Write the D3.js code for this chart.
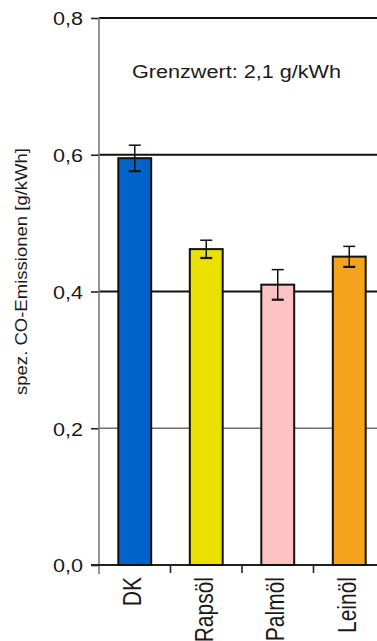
<!DOCTYPE html>
<html>
<head>
<meta charset="utf-8">
<script src="https://cdn.jsdelivr.net/npm/d3@7"></script>
<style>
  html, body { margin: 0; padding: 0; background: #fff; overflow: hidden; }
  svg { display: block; font-family: "Liberation Sans", Arial, sans-serif; }
</style>
</head>
<body>
<svg id="chart" width="377" height="641"></svg>
<script>
// Specific CO emissions per fuel, mean and error-bar half-width (g/kWh)
const categories = ["DK", "Rapsöl", "Palmöl", "Leinöl"];
const values = [0.595, 0.462, 0.410, 0.451];
const errors = [0.019, 0.013, 0.022, 0.015];
const barColors = ["#0063C9", "#EBE000", "#FFC2C2", "#F4A31C"];
const yTicks = [0.0, 0.2, 0.4, 0.6, 0.8];
const yTickLabels = ["0,0", "0,2", "0,4", "0,6", "0,8"];
const yLabel = "spez. CO-Emissionen [g/kWh]";
const note = "Grenzwert: 2,1 g/kWh";

const svg = d3.select("#chart");
const plotLeft = 99, plotTop = 18, plotBottom = 565;
const step = 71.5;

const y = d3.scaleLinear().domain([0, 0.8]).range([plotBottom, plotTop]);
const x = d3.scaleBand().domain(categories)
  .range([plotLeft, plotLeft + step * categories.length]).padding(0);
const barW = x.bandwidth() * 0.46;

// horizontal grid lines
svg.append("g").selectAll("line")
  .data(yTicks.filter(d => d > 0))
  .join("line")
  .attr("x1", plotLeft).attr("x2", 377)
  .attr("y1", d => y(d)).attr("y2", d => y(d))
  .attr("stroke", d => d === 0.2 ? "#6e6e6e" : "#111")
  .attr("stroke-width", d => d === 0.2 ? 1.3 : 1.8);

// y axis
const yAxis = d3.axisLeft(y).tickValues(yTicks)
  .tickFormat((d, i) => yTickLabels[i]).tickSize(8).tickPadding(8);
const gy = svg.append("g").attr("transform", `translate(${plotLeft},0)`).call(yAxis);
gy.select(".domain").remove();
gy.selectAll(".tick line").attr("stroke", "#222").attr("stroke-width", 1.6);
gy.selectAll(".tick text")
  .attr("font-size", 18).attr("fill", "#1a1a1a")
  .attr("textLength", 30).attr("lengthAdjust", "spacingAndGlyphs")
  .attr("dy", "0.38em");
svg.append("line")
  .attr("x1", plotLeft).attr("x2", plotLeft).attr("y1", plotTop).attr("y2", plotBottom + 9)
  .attr("stroke", "#7a7a7a").attr("stroke-width", 1.6);

// x axis baseline and category separators
svg.append("line")
  .attr("x1", plotLeft - 8).attr("x2", 377).attr("y1", plotBottom).attr("y2", plotBottom)
  .attr("stroke", "#222").attr("stroke-width", 1.8);
svg.append("g").selectAll("line")
  .data(categories.slice(1))
  .join("line")
  .attr("x1", d => x(d)).attr("x2", d => x(d))
  .attr("y1", plotBottom).attr("y2", plotBottom + 8)
  .attr("stroke", "#222").attr("stroke-width", 1.6);

// bars
svg.append("g").selectAll("rect")
  .data(categories)
  .join("rect")
  .attr("x", d => x(d) + (x.bandwidth() - barW) / 2)
  .attr("width", barW)
  .attr("y", (d, i) => y(values[i]))
  .attr("height", (d, i) => y(0) - y(values[i]))
  .attr("fill", (d, i) => barColors[i])
  .attr("stroke", "#111").attr("stroke-width", 2);

// error bars
const eb = svg.append("g").attr("stroke", "#111");
categories.forEach((c, i) => {
  const cx = x(c) + x.bandwidth() / 2;
  const hi = y(values[i] + errors[i]), lo = y(values[i] - errors[i]);
  eb.append("line").attr("x1", cx).attr("x2", cx).attr("y1", hi).attr("y2", lo).attr("stroke-width", 1.5);
  eb.append("line").attr("x1", cx - 6).attr("x2", cx + 6).attr("y1", hi).attr("y2", hi).attr("stroke-width", 1.5);
  eb.append("line").attr("x1", cx - 6).attr("x2", cx + 6).attr("y1", lo).attr("y2", lo).attr("stroke-width", 2.2);
});

// category labels, rotated, glyphs widened across the text direction
svg.append("g").selectAll("text")
  .data(categories)
  .join("text")
  .attr("transform", d => `translate(${x(d) + x.bandwidth() / 2 + 6.5},${plotBottom + 12}) rotate(-90) scale(1,1.2)`)
  .attr("text-anchor", "end")
  .attr("font-size", 21)
  .attr("fill", "#1a1a1a")
  .text(d => d);

// y axis title
svg.append("text")
  .attr("transform", `translate(21,${(148 + 395) / 2}) rotate(-90) scale(1,1.15)`)
  .attr("text-anchor", "middle")
  .attr("dy", "0.35em")
  .attr("font-size", 15)
  .attr("fill", "#1a1a1a")
  .attr("textLength", 247).attr("lengthAdjust", "spacingAndGlyphs")
  .text(yLabel);

// limit value note
svg.append("text")
  .attr("x", 132).attr("y", 78)
  .attr("font-size", 18)
  .attr("fill", "#1a1a1a")
  .attr("textLength", 209).attr("lengthAdjust", "spacingAndGlyphs")
  .text(note);
</script>
</body>
</html>
